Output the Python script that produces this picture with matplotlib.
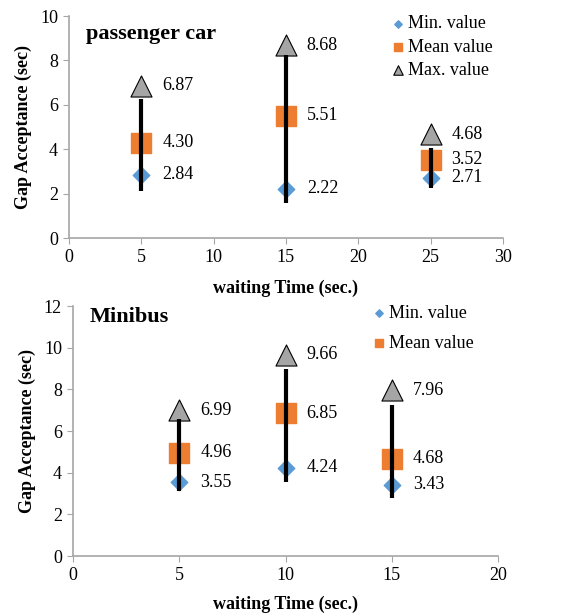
import matplotlib.pyplot as plt

plt.rcParams['font.family'] = ['Liberation Serif', 'DejaVu Serif']

# passenger car
car_time = [5, 15, 25]
car_min = [2.84, 2.22, 2.71]
car_mean = [4.30, 5.51, 3.52]
car_max = [6.87, 8.68, 4.68]
car_low = [2.1, 1.6, 2.25]
car_high = [6.25, 8.25, 4.05]

# minibus
bus_time = [5, 10, 15]
bus_min = [3.55, 4.24, 3.43]
bus_mean = [4.96, 6.85, 4.68]
bus_max = [6.99, 9.66, 7.96]
bus_low = [3.1, 3.55, 2.8]
bus_high = [6.6, 9.0, 7.25]

BLUE = '#5B9BD5'
ORANGE = '#ED7D31'
GREY = '#A5A5A5'
AXC = '#A6A6A6'

fig = plt.figure(figsize=(5.8, 6.16), dpi=100)
ax1 = fig.add_axes([0.119, 0.6136, 0.748, 0.3604])
ax2 = fig.add_axes([0.126, 0.0974, 0.733, 0.4058])


def draw(ax, t, vmin, vmean, vmax, lo, hi, title, title_y, xmax, ymax, xpad, show_max_leg):
    ax.vlines(t, lo, hi, color='black', lw=3, zorder=4)
    ax.scatter(t, vmin, marker='D', s=70, color=BLUE, zorder=3, label='Min. value')
    ax.scatter(t, vmean, marker='s', s=190, color=ORANGE, zorder=3, label='Mean value')
    ax.scatter(t, vmax, marker='^', s=230, color=GREY, edgecolor='black', lw=0.8,
               zorder=3, label='Max. value' if show_max_leg else '_nolegend_')
    for vals in (vmin, vmean, vmax):
        for x, v in zip(t, vals):
            ax.annotate(f'{v:.2f}', (x, v), xytext=(15, 0), textcoords='offset points',
                        va='center', ha='left', fontsize=13)
    ax.set_xlim(0, xmax)
    ax.set_ylim(0, ymax)
    ax.set_xticks(range(0, xmax + 1, 5))
    ax.set_yticks(range(0, ymax + 1, 2))
    ax.tick_params(labelsize=13, color=AXC, length=4, pad=4)
    for s in ('top', 'right'):
        ax.spines[s].set_visible(False)
    for s in ('left', 'bottom'):
        ax.spines[s].set_color(AXC)
        ax.spines[s].set_linewidth(1.2)
    ax.set_xlabel('waiting Time (sec.)', fontsize=13, fontweight='bold', labelpad=xpad)
    ax.set_ylabel('Gap Acceptance (sec)', fontsize=13, fontweight='bold', labelpad=6)
    ax.text(0.04, title_y, title, transform=ax.transAxes, fontsize=16,
            fontweight='bold', va='center')


draw(ax1, car_time, car_min, car_mean, car_max, car_low, car_high,
     'passenger car', 0.92, 30, 10, 10, True)
draw(ax2, bus_time, bus_min, bus_mean, bus_max, bus_low, bus_high,
     'Minibus', 0.955, 20, 12, 8, False)

ax1.legend(loc='upper left', bbox_to_anchor=(0.725, 1.035), frameon=False,
           fontsize=13, handletextpad=0.15, handlelength=0.8, labelspacing=0.35,
           markerscale=0.45, borderaxespad=0)
ax2.legend(loc='upper left', bbox_to_anchor=(0.685, 1.035), frameon=False,
           fontsize=13, handletextpad=0.15, handlelength=0.8, labelspacing=0.75,
           markerscale=0.45, borderaxespad=0)

fig.savefig('out.png', dpi=100)
